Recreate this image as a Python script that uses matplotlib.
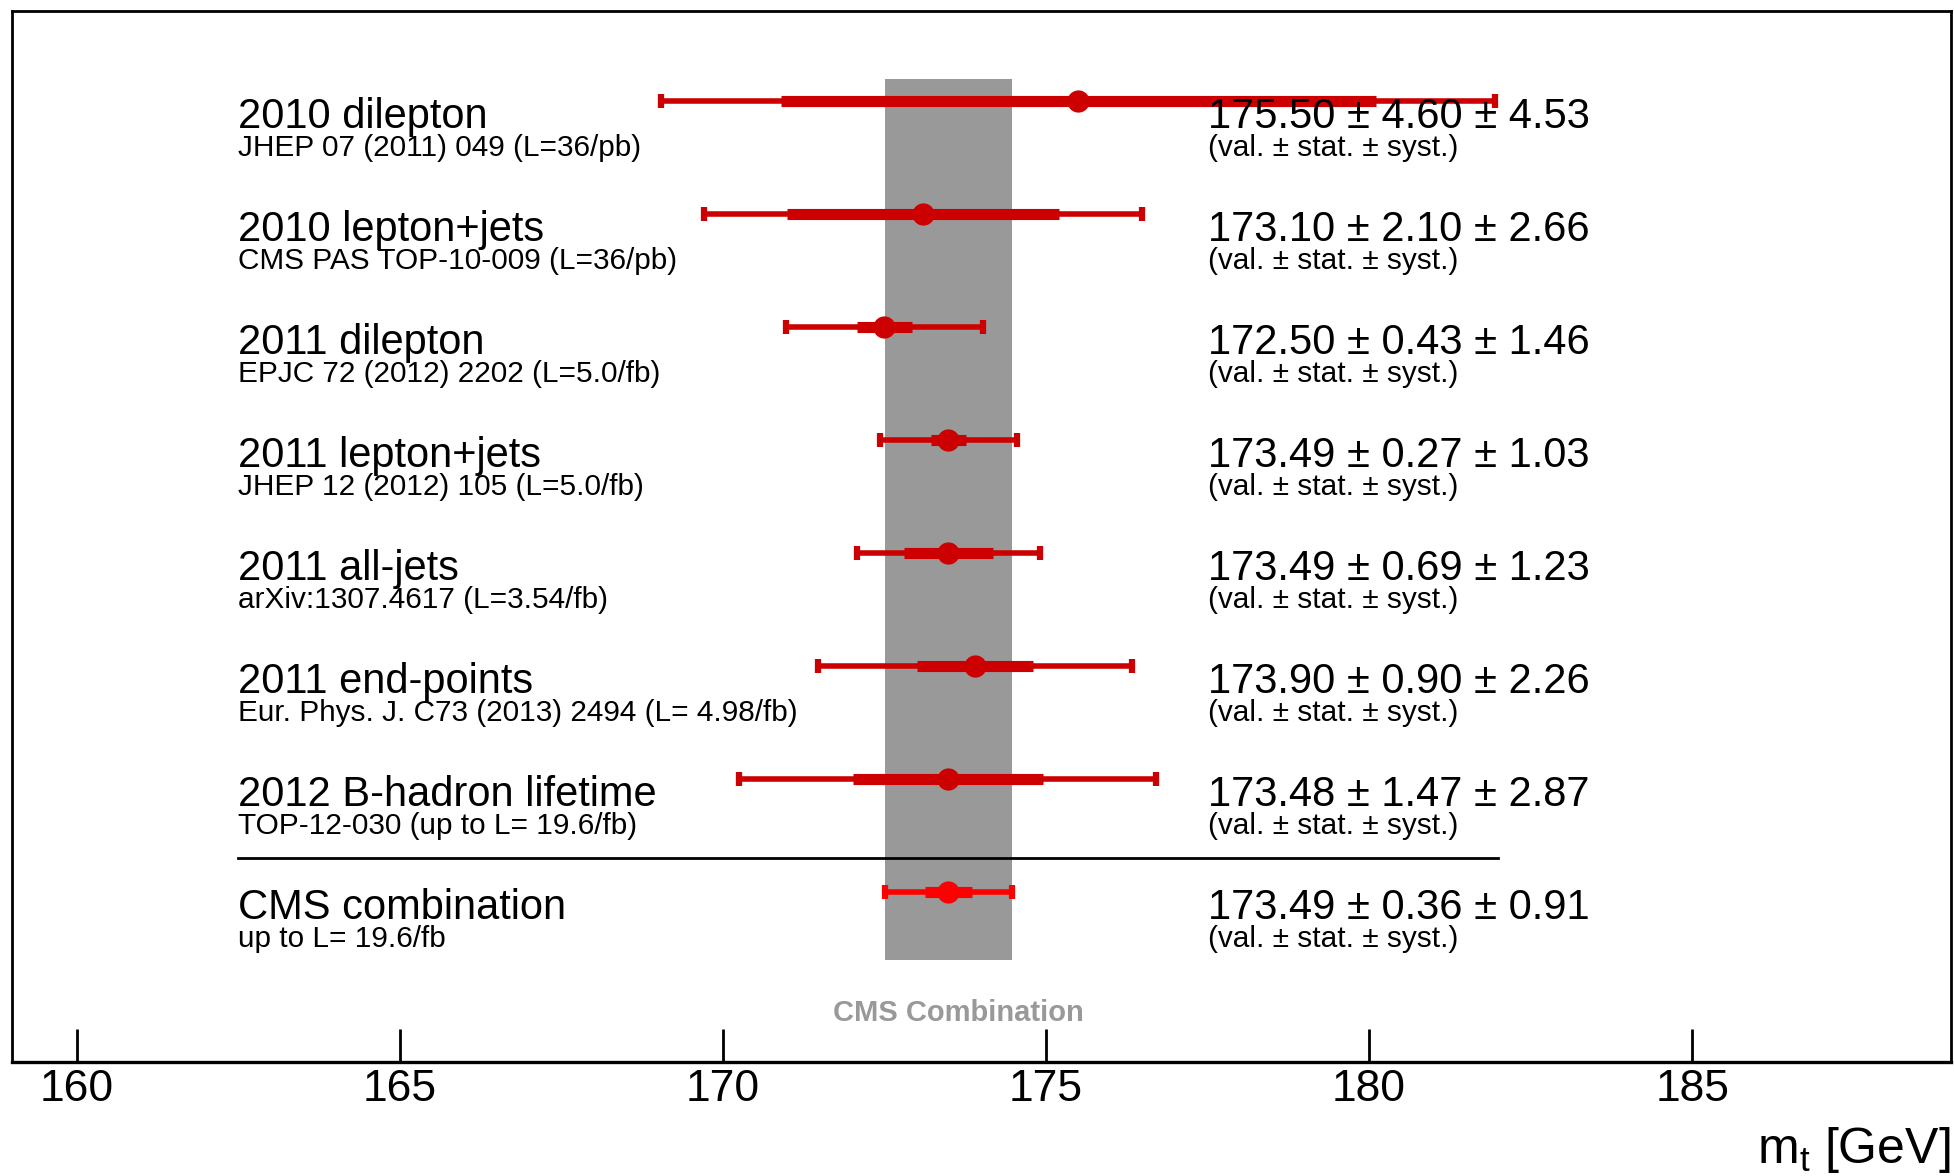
import numpy as np
import matplotlib
matplotlib.use("Agg")
import matplotlib.pyplot as plt

plt.rcParams['font.family'] = ['Liberation Sans', 'DejaVu Sans']
plt.rcParams['mathtext.fontset'] = 'custom'
plt.rcParams['mathtext.rm'] = 'Liberation Sans'
plt.rcParams['mathtext.it'] = 'Liberation Sans:italic'

# Top-quark mass measurements, top row first; the last entry is the combination
titles = ["2010 dilepton", "2010 lepton+jets", "2011 dilepton", "2011 lepton+jets",
          "2011 all-jets", "2011 end-points", "2012 B-hadron lifetime", "CMS combination"]
refs = ["JHEP 07 (2011) 049 (L=36/pb)", "CMS PAS TOP-10-009 (L=36/pb)",
        "EPJC 72 (2012) 2202 (L=5.0/fb)", "JHEP 12 (2012) 105 (L=5.0/fb)",
        "arXiv:1307.4617 (L=3.54/fb)", "Eur. Phys. J. C73 (2013) 2494 (L= 4.98/fb)",
        "TOP-12-030 (up to L= 19.6/fb)", "up to L= 19.6/fb"]
mass = np.array([175.50, 173.10, 172.50, 173.49, 173.49, 173.90, 173.48, 173.49])
stat = np.array([4.60, 2.10, 0.43, 0.27, 0.69, 0.90, 1.47, 0.36])
syst = np.array([4.53, 2.66, 1.46, 1.03, 1.23, 2.26, 2.87, 0.91])
xticks = [160, 165, 170, 175, 180, 185]

total = np.hypot(stat, syst)
ypos = np.arange(len(mass), 0, -1)

fig = plt.figure(figsize=(19.54, 11.76), dpi=100)
ax = fig.add_axes([0.00614, 0.09719, 0.99217, 0.89371])

# grey band for the combined value +- total uncertainty
ax.fill_betweenx([0.4, 8.2], mass[-1] - total[-1], mass[-1] + total[-1],
                 color='#999999', lw=0, zorder=1)

for i in range(len(mass)):
    y = ypos[i]
    col = '#ff0000' if i == len(mass) - 1 else '#cc0000'
    # thin bar: total error, thick bar: statistical error
    ax.errorbar(mass[i], y, xerr=total[i], fmt='none', ecolor=col,
                elinewidth=4, capsize=4.8, capthick=4.5, zorder=2)
    ax.plot([mass[i] - stat[i], mass[i] + stat[i]], [y, y], color=col,
            lw=8, solid_capstyle='butt', zorder=2)
    ax.plot(mass[i], y, 'o', ms=15, color=col, mec=col, zorder=2)

    ax.text(162.5, y - 0.239, titles[i], fontsize=30, va='baseline', zorder=4)
    ax.text(162.5, y - 0.486, refs[i], fontsize=21.4, va='baseline', zorder=4)
    ax.text(177.5, y - 0.239, f"{mass[i]:.2f} ± {stat[i]:.2f} ± {syst[i]:.2f}",
            fontsize=30, va='baseline', zorder=4)
    ax.text(177.5, y - 0.486, "(val. ± stat. ± syst.)", fontsize=21.4,
            va='baseline', zorder=4)

# line separating the single measurements from the combination
ax.plot([162.5, 182.0], [1.3, 1.3], color='black', lw=2, zorder=2)

ax.text(173.65, -0.137, "CMS Combination", fontsize=21, fontweight='bold',
        color='#999999', ha='center', va='baseline')

ax.set_xlim(159, 189)
ax.set_ylim(-0.5, 8.8)
ax.set_xticks(xticks)
ax.set_yticks([])
ax.tick_params(axis='x', direction='in', length=24, width=2, labelsize=32, pad=5)
for side in ['left', 'right', 'top']:
    ax.spines[side].set_linewidth(2)
ax.spines['bottom'].set_linewidth(2.4)

fig.text(0.998, 0.011, r"m$_{\rm t}$ [GeV]", fontsize=36, ha='right', va='baseline')

fig.savefig("out.png", dpi=100)
